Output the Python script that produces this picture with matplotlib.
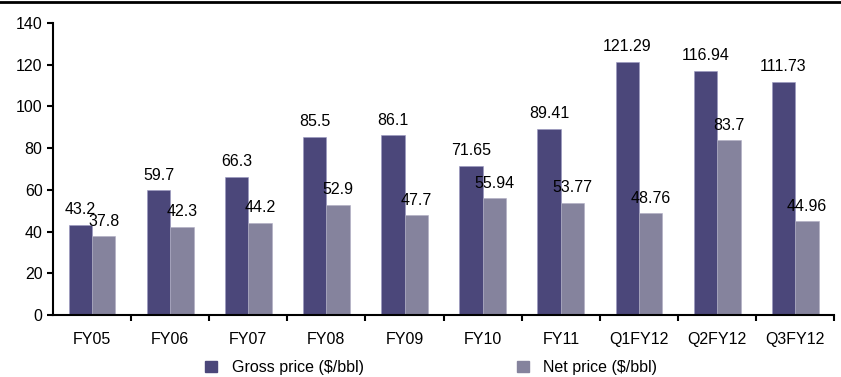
import matplotlib
matplotlib.use('Agg')

import matplotlib.pyplot as plt
from matplotlib.lines import Line2D
from matplotlib.patches import Patch
import numpy as np

plt.rcParams['font.family'] = ['Liberation Sans', 'DejaVu Sans']

periods = ["FY05", "FY06", "FY07", "FY08", "FY09", "FY10", "FY11", "Q1FY12", "Q2FY12", "Q3FY12"]
gross = [43.2, 59.7, 66.3, 85.5, 86.1, 71.65, 89.41, 121.29, 116.94, 111.73]
net = [37.8, 42.3, 44.2, 52.9, 47.7, 55.94, 53.77, 48.76, 83.7, 44.96]
gross_lbl = ["43.2", "59.7", "66.3", "85.5", "86.1", "71.65", "89.41", "121.29", "116.94", "111.73"]
net_lbl = ["37.8", "42.3", "44.2", "52.9", "47.7", "55.94", "53.77", "48.76", "83.7", "44.96"]

c_gross = '#4b477a'
c_net = '#85839d'
fs = 11.5

fig = plt.figure(figsize=(8.41, 3.77), dpi=100)
ax = fig.add_axes([0.063, 0.1645, 0.929, 0.7745])

x = np.arange(len(periods))
w = 0.3
ax.bar(x - w / 2, gross, w, color=c_gross, edgecolor='#9a98c0', linewidth=0.4)
ax.bar(x + w / 2, net, w, color=c_net, edgecolor='#b0aec4', linewidth=0.4)

for i in range(len(periods)):
    ax.annotate(gross_lbl[i], (x[i] - w / 2, gross[i]), xytext=(0, 5.5), textcoords='offset points',
                ha='center', va='bottom', fontsize=fs)
    ax.annotate(net_lbl[i], (x[i] + w / 2, net[i]), xytext=(0, 5.5), textcoords='offset points',
                ha='center', va='bottom', fontsize=fs)

ax.set_xlim(-0.5, len(periods) - 0.5)
ax.set_ylim(0, 140)
ax.set_yticks(range(0, 141, 20))
ax.set_xticks(x)
ax.set_xticklabels(periods, fontsize=fs)
ax.set_xticks(np.arange(0.5, len(periods), 1.0), minor=True)
ax.tick_params(axis='x', which='major', length=0, pad=12)
ax.tick_params(axis='x', which='minor', length=4, width=1.5, direction='out')
ax.tick_params(axis='y', length=4, width=1.5, direction='out', labelsize=fs)

for s in ['top', 'right']:
    ax.spines[s].set_visible(False)
for s in ['left', 'bottom']:
    ax.spines[s].set_linewidth(1.5)

handles = [Patch(color=c_gross), Patch(color=c_net)]
fig.legend(handles, ["Gross price ($/bbl)", "Net price ($/bbl)"], loc='center left',
           bbox_to_anchor=(0.244, 0.025), ncol=2, frameon=False, fontsize=fs,
           handlelength=0.75, handleheight=0.75, handletextpad=0.9, columnspacing=9.6,
           borderpad=0, borderaxespad=0)

# rule across the top of the figure
fig.add_artist(Line2D([0, 1], [0.996, 0.996], color='black', linewidth=2, transform=fig.transFigure))

fig.savefig('out.png', dpi=100)
